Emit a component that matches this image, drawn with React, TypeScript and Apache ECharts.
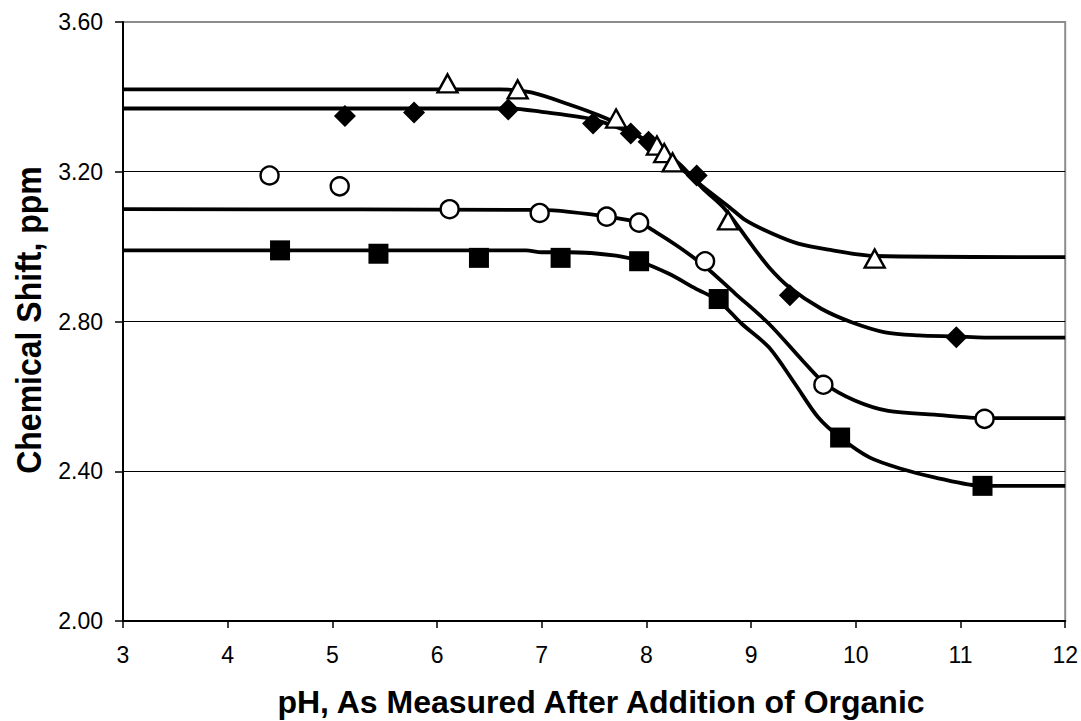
import React, { useEffect, useRef } from "react";
import * as echarts from "echarts";

// Fitted curves (pH, ppm)
const triCurveX = [3.0, 6.6, 6.9, 7.29, 7.55, 7.8, 8.05, 8.3, 8.54, 8.79, 8.95, 9.2, 9.45, 9.74, 10.18, 12];
const triCurveY = [3.42, 3.42, 3.412, 3.377, 3.35, 3.318, 3.27, 3.215, 3.16, 3.106, 3.07, 3.035, 3.008, 2.992, 2.975, 2.972];

const diaCurveX = [3.0, 6.7, 7.0, 7.49, 7.85, 8.02, 8.3, 8.54, 8.75, 8.99, 9.17, 9.37, 9.67, 9.96, 10.28, 10.6, 10.96, 11.23, 12];
const diaCurveY = [3.369, 3.369, 3.36, 3.34, 3.305, 3.28, 3.225, 3.155, 3.1, 3.01, 2.945, 2.89, 2.834, 2.798, 2.771, 2.763, 2.76, 2.757, 2.757];

const cirCurveX = [3.0, 7.0, 7.26, 7.63, 7.93, 8.09, 8.31, 8.56, 8.85, 9.17, 9.49, 9.71, 9.99, 10.31, 10.75, 11.23, 12];
const cirCurveY = [3.1, 3.098, 3.093, 3.08, 3.064, 3.039, 2.999, 2.947, 2.874, 2.794, 2.696, 2.633, 2.589, 2.561, 2.551, 2.542, 2.542];

const sqCurveX = [3.0, 6.85, 7.0, 7.26, 7.71, 7.93, 8.21, 8.47, 8.69, 8.91, 9.17, 9.42, 9.64, 9.85, 10.13, 10.44, 10.76, 11.21, 12];
const sqCurveY = [2.99, 2.99, 2.985, 2.985, 2.976, 2.961, 2.928, 2.888, 2.855, 2.794, 2.731, 2.633, 2.544, 2.49, 2.437, 2.406, 2.383, 2.361, 2.361];

// Measured points (pH, ppm)
const triX = [6.1, 6.77, 7.71, 8.1, 8.17, 8.25, 8.78, 10.18];
const triY = [3.436, 3.42, 3.342, 3.27, 3.25, 3.225, 3.07, 2.968];

const diaX = [5.12, 5.78, 6.68, 7.49, 7.85, 8.02, 8.48, 9.37, 10.96];
const diaY = [3.349, 3.358, 3.366, 3.329, 3.302, 3.28, 3.19, 2.87, 2.758];

const cirX = [4.4, 5.07, 6.12, 6.98, 7.62, 7.93, 8.56, 9.69, 11.23];
const cirY = [3.19, 3.161, 3.1, 3.09, 3.08, 3.064, 2.961, 2.631, 2.54];

const sqX = [4.5, 5.44, 6.4, 7.18, 7.93, 8.69, 9.85, 11.21];
const sqY = [2.99, 2.981, 2.97, 2.97, 2.961, 2.86, 2.49, 2.361];

const xTitle = "pH, As Measured After Addition of Organic";
const yTitle = "Chemical Shift, ppm";

const zip = (xs: number[], ys: number[]) => xs.map((x, i) => [x, ys[i]]);

const FONT = "'Liberation Sans', Arial, sans-serif";

export default function App() {
  const ref = useRef<HTMLDivElement>(null);
  useEffect(() => {
    if (!ref.current) return;
    const chart = echarts.init(ref.current, undefined, { renderer: "svg" });
    const curve = (xs: number[], ys: number[]) => ({
      type: "line",
      data: zip(xs, ys),
      showSymbol: false,
      symbol: "none",
      smooth: 0.3,
      lineStyle: { color: "#000", width: 3.8 },
      z: 2,
    });
    const pts = (xs: number[], ys: number[], symbol: string, size: any, filled: boolean) => ({
      type: "scatter",
      data: zip(xs, ys),
      symbol,
      symbolSize: size,
      itemStyle: filled
        ? { color: "#000", opacity: 1 }
        : { color: "#fff", borderColor: "#000", borderWidth: 2.4, opacity: 1 },
      z: 3,
    });
    chart.setOption({
      animation: false,
      backgroundColor: "#fff",
      grid: {
        left: 123,
        top: 22,
        right: 14,
        bottom: 100,
        show: true,
        borderColor: "#8c8c8c",
        borderWidth: 2,
        backgroundColor: "transparent",
      },
      graphic: [
        {
          type: "text",
          x: 601,
          y: 702,
          style: {
            text: xTitle,
            fontFamily: FONT,
            fontSize: 32,
            fontWeight: "bold",
            fill: "#000",
            align: "center",
            verticalAlign: "middle",
          },
        },
        {
          type: "text",
          x: 28,
          y: 320,
          rotation: Math.PI / 2,
          scaleY: 1.12,
          style: {
            text: yTitle,
            fontFamily: FONT,
            fontSize: 32,
            fontWeight: "bold",
            fill: "#000",
            align: "center",
            verticalAlign: "middle",
          },
        },
      ],
      xAxis: {
        type: "value",
        min: 3,
        max: 12,
        interval: 1,
        axisLine: { show: true, lineStyle: { color: "#000", width: 2 } },
        axisTick: { show: true, inside: false, length: 7, lineStyle: { color: "#000", width: 1.5 } },
        axisLabel: { fontFamily: FONT, fontSize: 23, color: "#000", margin: 22 },
        splitLine: { show: false },
      },
      yAxis: {
        type: "value",
        min: 2,
        max: 3.6,
        interval: 0.4,
        axisLine: { show: true, lineStyle: { color: "#000", width: 2 } },
        axisTick: { show: true, inside: false, length: 8, lineStyle: { color: "#000", width: 1.5 } },
        axisLabel: {
          fontFamily: FONT,
          fontSize: 23,
          color: "#000",
          margin: 20,
          formatter: (v: number) => v.toFixed(2),
        },
        splitLine: {
          show: true,
          lineStyle: { color: ["transparent", "#000", "#000", "#000", "transparent"], width: 1 },
        },
      },
      series: [
        curve(triCurveX, triCurveY),
        curve(diaCurveX, diaCurveY),
        curve(cirCurveX, cirCurveY),
        curve(sqCurveX, sqCurveY),
        pts(sqX, sqY, "rect", 20, true),
        pts(diaX, diaY, "diamond", 22, true),
        pts(cirX, cirY, "circle", 18, false),
        pts(triX, triY, "triangle", [20, 18], false),
      ],
    });
    return () => chart.dispose();
  }, []);
  return (
    <div
      ref={ref}
      style={{ position: "fixed", left: 0, top: 0, width: 1081, height: 721, background: "#fff" }}
    />
  );
}
